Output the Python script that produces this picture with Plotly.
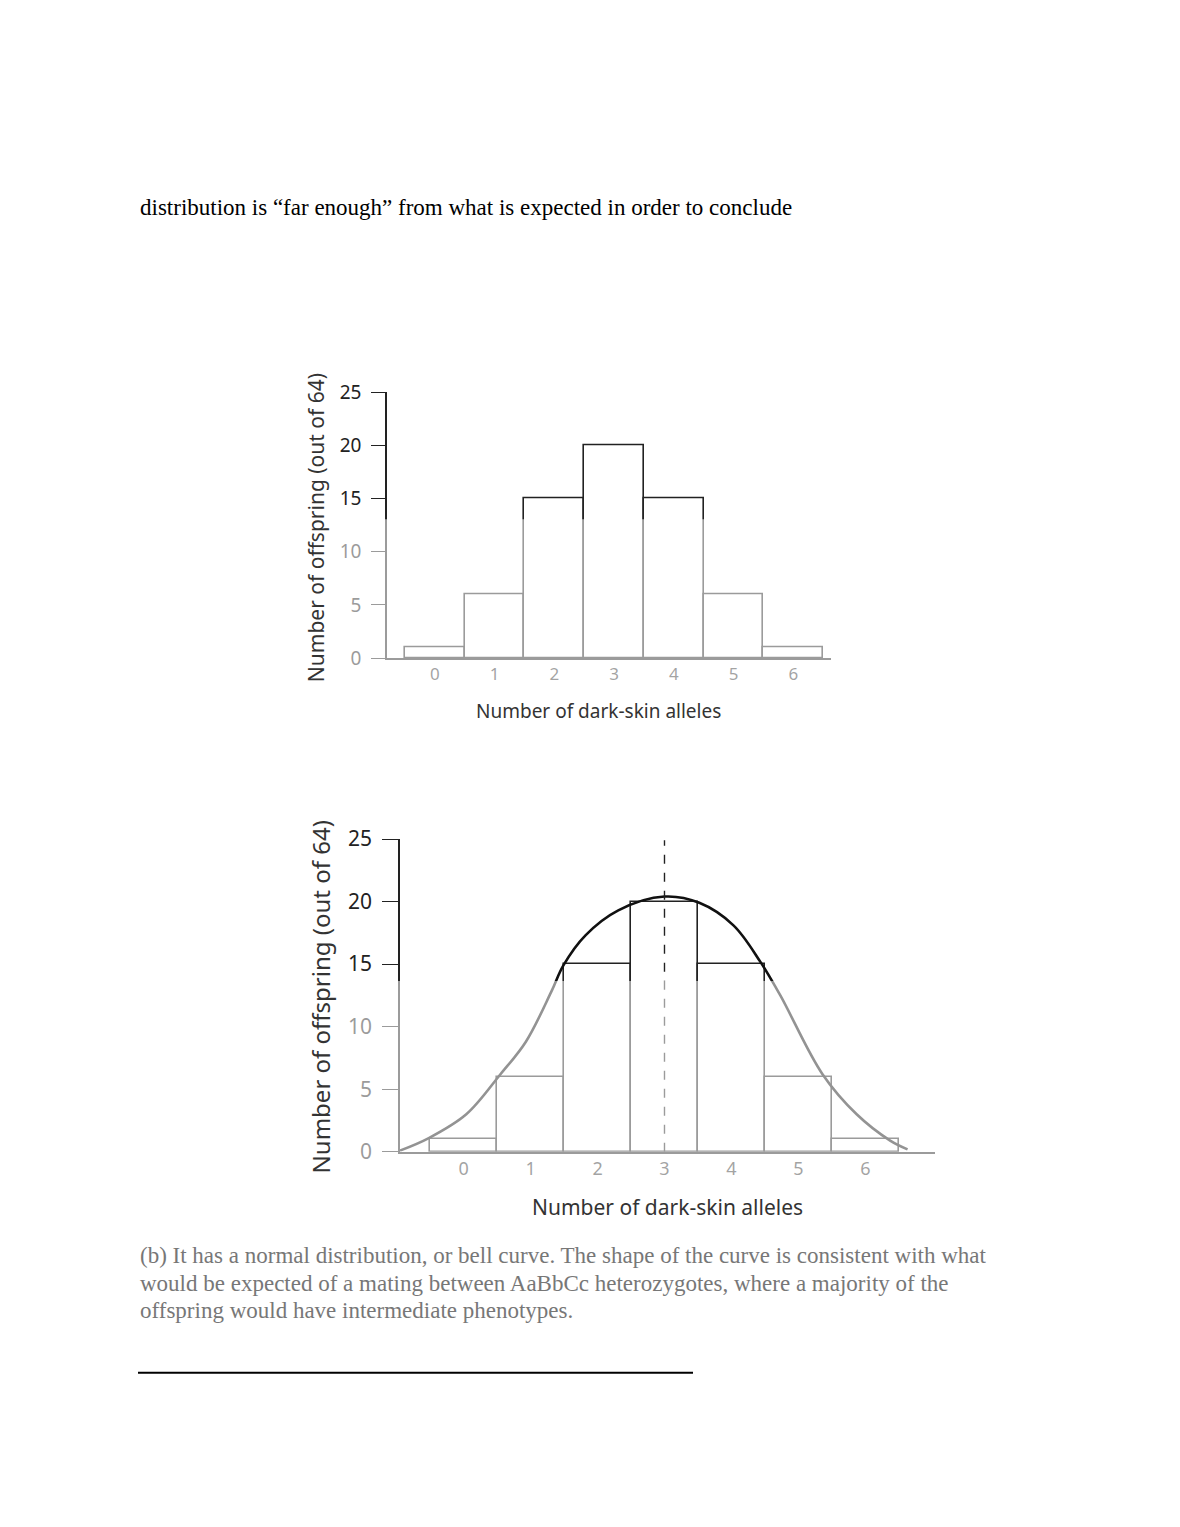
import plotly.graph_objects as go

# page is 1180x1527, the browser adds an 8px body margin round the figure
PAGE_W, PAGE_H = 1180, 1527
PAD = 8
W, H = PAGE_W - 2 * PAD, PAGE_H - 2 * PAD

alleles = [0, 1, 2, 3, 4, 5, 6]
offspring = [1, 6, 15, 20, 15, 6, 1]
y_ticks = [0, 5, 10, 15, 20, 25]
mean_alleles = 3

# hand drawn bell curve over the lower histogram
curve_x = [-0.95, -0.52, 0.04, 0.55, 0.93, 1.31, 1.49, 1.82, 2.31, 3.0,
           3.52, 4.03, 4.43, 4.73, 5.36, 5.87, 6.37, 6.63]
curve_y = [0.1, 1.1, 3.0, 6.2, 8.8, 12.8, 14.9, 17.3, 19.3, 20.4,
           19.9, 18.1, 15.2, 12.5, 6.2, 3.0, 0.9, 0.2]

header = "distribution is \u201cfar enough\u201d from what is expected in order to conclude"
answer_lines = [
    "(b) It has a normal distribution, or bell curve. The shape of the curve is consistent with what",
    "would be expected of a mating between AaBbCc heterozygotes, where a majority of the",
    "offspring would have intermediate phenotypes.",
]
y_title = "Number of offspring (out of 64)"
x_title = "Number of dark-skin alleles"

hand = "Noto Sans"
serif = "Liberation Serif"


def px_x(v):
    return (v - PAD) / W


def px_y(v):
    # small vertical correction so page positions land where the scan has them
    v = (v - 13.7) / 0.982
    return 1 - (v - PAD) / H


fig = go.Figure()

# upper histogram
fig.add_trace(go.Bar(x=alleles, y=offspring, width=1, xaxis="x", yaxis="y",
                     marker=dict(color="white", line=dict(color="#222", width=1.6)),
                     showlegend=False))

# lower histogram with curve and mean line
fig.add_trace(go.Bar(x=alleles, y=offspring, width=1, xaxis="x2", yaxis="y2",
                     marker=dict(color="white", line=dict(color="#222", width=1.6)),
                     showlegend=False))
fig.add_trace(go.Scatter(x=curve_x, y=curve_y, mode="lines", xaxis="x2", yaxis="y2",
                         line=dict(color="#111", width=2.6, shape="spline"),
                         showlegend=False))
fig.add_trace(go.Scatter(x=[mean_alleles, mean_alleles], y=[0, 24.9], mode="lines",
                         xaxis="x2", yaxis="y2",
                         line=dict(color="#222", width=1.4, dash="dash"),
                         showlegend=False))

axis_common = dict(showgrid=False, zeroline=False, showline=True, linecolor="#222",
                   linewidth=1.6)

fig.update_layout(
    width=W, height=H,
    margin=dict(l=0, r=0, t=0, b=0),
    paper_bgcolor="white", plot_bgcolor="white",
    bargap=0,
    xaxis=dict(domain=[px_x(387), px_x(831)], range=[-0.8, 6.63], anchor="y",
               tickvals=alleles, ticks="", tickfont=dict(family=hand, size=17, color="#333"),
               **axis_common),
    yaxis=dict(domain=[px_y(657), px_y(391)], range=[0, 25], anchor="x",
               tickvals=y_ticks, ticks="outside", ticklen=14, tickcolor="#222",
               ticklabelstandoff=6,
               tickfont=dict(family=hand, size=19, color="#222"),
               **axis_common),
    xaxis2=dict(domain=[px_x(400), px_x(935)], range=[-0.95, 7.04], anchor="y2",
                tickvals=alleles, ticks="", tickfont=dict(family=hand, size=18, color="#333"),
                **axis_common),
    yaxis2=dict(domain=[px_y(1151), px_y(838)], range=[0, 25], anchor="x2",
                tickvals=y_ticks, ticks="outside", ticklen=16, tickcolor="#222",
                ticklabelstandoff=6,
                tickfont=dict(family=hand, size=21, color="#222"),
                **axis_common),
)

ann = []
ann.append(dict(x=px_x(138), y=px_y(206), xref="paper", yref="paper", text=header,
                showarrow=False, xanchor="left", yanchor="middle",
                font=dict(family=serif, size=23, color="black")))
for i, line in enumerate(answer_lines):
    ann.append(dict(x=px_x(138), y=px_y(1255 + 27.5 * i), xref="paper", yref="paper",
                    text=line, showarrow=False, xanchor="left", yanchor="middle",
                    font=dict(family=serif, size=23, color="#777")))
# axis titles
ann.append(dict(x=px_x(300), y=px_y(527), xref="paper", yref="paper", text=y_title,
                textangle=-90, showarrow=False,
                font=dict(family=hand, size=21, color="#333")))
ann.append(dict(x=px_x(598), y=px_y(710), xref="paper", yref="paper", text=x_title,
                showarrow=False, font=dict(family=hand, size=19, color="#333")))
ann.append(dict(x=px_x(302), y=px_y(996), xref="paper", yref="paper", text=y_title,
                textangle=-90, showarrow=False,
                font=dict(family=hand, size=24, color="#333")))
ann.append(dict(x=px_x(667), y=px_y(1222), xref="paper", yref="paper", text=x_title,
                showarrow=False, font=dict(family=hand, size=21, color="#333")))

shapes = [
    # footnote rule
    dict(type="line", xref="paper", yref="paper", x0=px_x(138), x1=px_x(693),
         y0=px_y(1372), y1=px_y(1372), line=dict(color="black", width=2)),
    # faded lower halves of the sketches
    dict(type="rect", xref="paper", yref="paper", x0=px_x(292), x1=px_x(850),
         y0=px_y(730), y1=px_y(518), fillcolor="rgba(255,255,255,0.55)",
         line=dict(width=0), layer="above"),
    dict(type="rect", xref="paper", yref="paper", x0=px_x(292), x1=px_x(950),
         y0=px_y(1234), y1=px_y(980), fillcolor="rgba(255,255,255,0.55)",
         line=dict(width=0), layer="above"),
]

fig.update_layout(annotations=ann, shapes=shapes)

fig.write_html("out.html")
